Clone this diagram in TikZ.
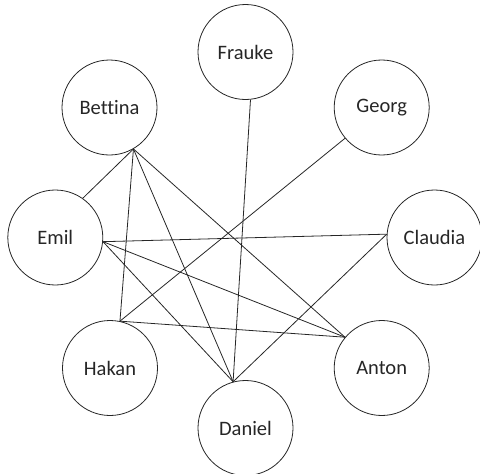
\documentclass[tikz,border=0pt]{standalone}
\usepackage{fontspec}
\setmainfont[Ligatures=CommonOff]{Carlito}
\usepackage{tikz}

\begin{document}
\begin{tikzpicture}[x=1pt, y=-1pt, line width=0.8pt, draw=black!85,
  person/.style={circle, draw, minimum size=95pt, inner sep=0pt, text=black!85, font=\fontsize{20.5}{24}\selectfont}]
\useasboundingbox (0,0) rectangle (480,474);
\node[person] (frauke)  at (245.5,52)  {Frauke};
\node[person] (georg)   at (381.7,107.5) {Georg};
\node[person] (bettina) at (109.5,107.5) {Bettina};
\node[person] (emil)    at (55.3,237.5) {Emil};
\node[person] (claudia) at (434.5,237.5) {Claudia};
\node[person] (hakan)   at (110,368)   {Hakan};
\node[person] (anton)   at (381.7,368) {Anton};
\node[person] (daniel)  at (245.5,428) {Daniel};
\path[draw]
(bettina.-60) edge (emil.55)
(bettina.-60) edge (hakan.78)
(bettina.-60) edge (daniel.105)
(bettina.-60) edge (anton.140)

(frauke.-84) edge (daniel.105)
(georg.-140) edge (hakan.78)

(emil.-5) edge (claudia.176)
(emil.-5) edge (anton.140)
(emil.-5) edge (daniel.105)

(hakan.78) edge (anton.140)
(claudia.176) edge (daniel.105);
\end{tikzpicture}
\end{document}
